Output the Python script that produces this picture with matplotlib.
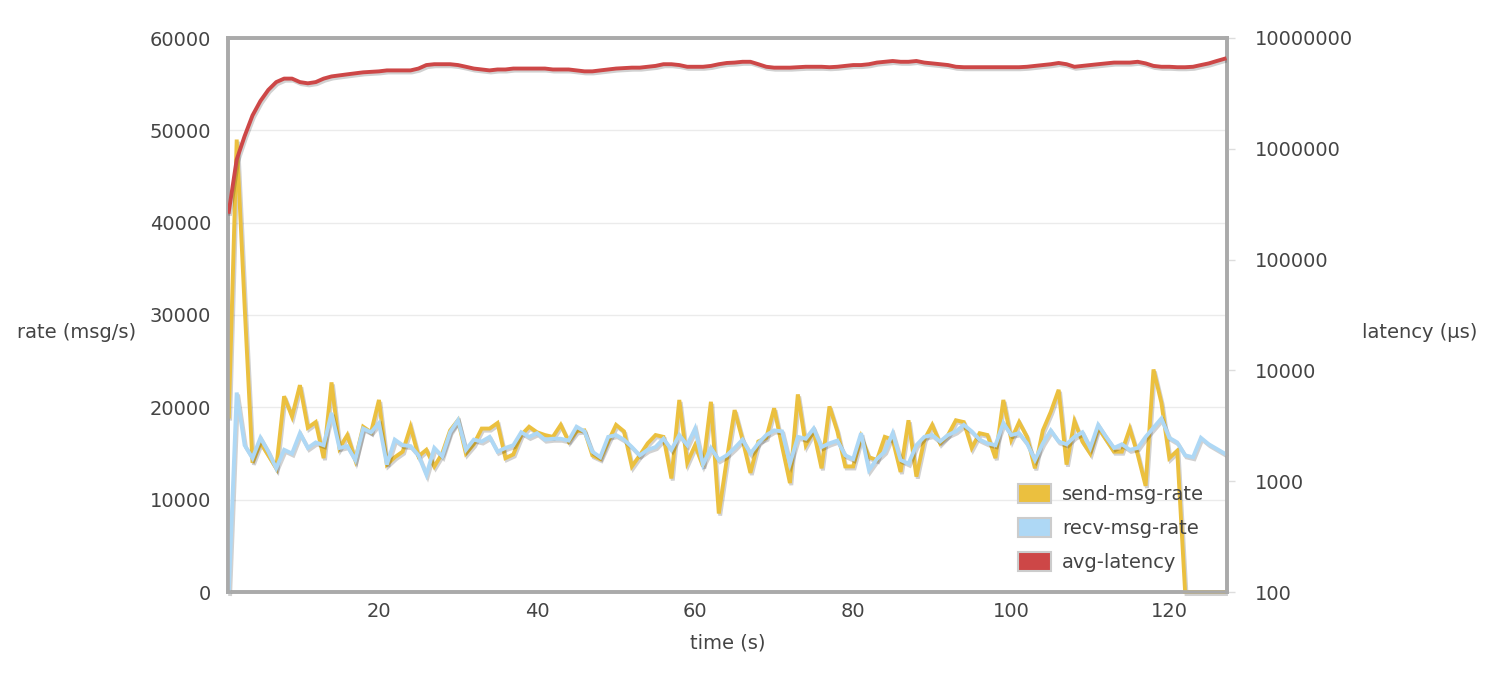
import matplotlib
matplotlib.use("Agg")
import matplotlib.pyplot as plt
import matplotlib.patheffects as pe
from matplotlib.patches import Patch
from matplotlib.ticker import FixedLocator, FuncFormatter, NullLocator
import numpy as np

# seconds 1..127
time_s = list(range(1, 128))

send_rate = [
    19000, 49000, 31000, 14000, 16200, 14800, 13400, 21200, 19000, 22400,
    17800, 18400, 14500, 22700, 15600, 17000, 14300, 17900, 17300, 20800,
    13800, 14600, 15200, 17900, 14700, 15400, 13600, 15000, 17500, 18600,
    15000, 16000, 17700, 17700, 18300, 14500, 14900, 17000, 17900, 17300,
    17000, 16800, 18100, 16300, 17400, 17500, 14800, 14400, 16300, 18100,
    17400, 13600, 14800, 16100, 17000, 16800, 12300, 20800, 14000, 15900,
    13600, 20600, 8500, 14300, 19700, 16500, 12900, 16300, 16700, 19900,
    15800, 11800, 21400, 15900, 17400, 13400, 20100, 17400, 13600, 13600,
    16800, 14600, 14300, 16800, 16500, 13000, 18600, 12500, 16500, 18100,
    16100, 17000, 18600, 18400, 15600, 17200, 17000, 14500, 20800, 16500,
    18400, 16800, 13400, 17500, 19500, 21900, 13800, 18500, 16300, 15000,
    17800, 16500, 15200, 15200, 17700, 14900, 11500, 24100, 20500, 14500,
    15300, 0, 0, 0, 0, 0, 0,
]

recv_rate = [
    0, 21600, 15900, 14500, 16700, 15200, 13400, 15400, 15000, 17200,
    15600, 16200, 15900, 19400, 15600, 15800, 14300, 17700, 17300, 18300,
    13800, 16500, 15900, 15800, 14800, 12700, 15600, 14700, 17300, 18600,
    15400, 16500, 16300, 16800, 15200, 15600, 15900, 17300, 16800, 17200,
    16500, 16600, 16600, 16400, 17900, 17400, 15200, 14600, 16800, 17000,
    16500, 15700, 14800, 15400, 15700, 16600, 15400, 17000, 15900, 17700,
    13800, 15600, 14300, 14800, 15600, 16500, 15000, 16100, 17000, 17500,
    17400, 13900, 16800, 16600, 17700, 15700, 16100, 16400, 14800, 14400,
    17200, 13200, 14400, 15200, 17200, 14300, 13900, 15900, 16800, 17000,
    16300, 17000, 17400, 18100, 17400, 16500, 16100, 15900, 18300, 17000,
    17200, 16100, 14300, 16100, 17500, 16300, 16000, 16800, 17300, 15600,
    18100, 16800, 15600, 16000, 15400, 15600, 16800, 17800, 18800, 16700,
    16200, 14800, 14600, 16700, 16000, 15500, 15000,
]

# avg latency in millions of microseconds
avg_latency_m = [
    0.27, 0.80, 1.3, 2.0, 2.7, 3.4, 4.0, 4.3, 4.3, 4.0,
    3.9, 4.0, 4.3, 4.5, 4.6, 4.7, 4.8, 4.9, 4.95, 5.0,
    5.1, 5.1, 5.1, 5.1, 5.3, 5.7, 5.8, 5.8, 5.8, 5.7,
    5.5, 5.3, 5.2, 5.1, 5.2, 5.2, 5.3, 5.3, 5.3, 5.3,
    5.3, 5.2, 5.2, 5.2, 5.1, 5.0, 5.0, 5.1, 5.2, 5.3,
    5.35, 5.4, 5.4, 5.5, 5.6, 5.8, 5.8, 5.7, 5.5, 5.5,
    5.5, 5.6, 5.8, 5.95, 6.0, 6.1, 6.1, 5.8, 5.5, 5.4,
    5.4, 5.4, 5.45, 5.5, 5.5, 5.5, 5.45, 5.5, 5.6, 5.7,
    5.7, 5.8, 6.0, 6.1, 6.2, 6.1, 6.1, 6.2, 6.0, 5.9,
    5.8, 5.7, 5.5, 5.45, 5.45, 5.45, 5.45, 5.45, 5.45, 5.45,
    5.45, 5.5, 5.6, 5.7, 5.8, 5.95, 5.8, 5.5, 5.6, 5.7,
    5.8, 5.9, 6.0, 6.0, 6.0, 6.1, 5.9, 5.6, 5.5, 5.5,
    5.45, 5.45, 5.5, 5.7, 5.9, 6.2, 6.5,
]

left_ticks = [0, 10000, 20000, 30000, 40000, 50000, 60000]
right_ticks = [100, 1000, 10000, 100000, 1000000, 10000000]
x_ticks = [20, 40, 60, 80, 100, 120]

c_send = "#ebc03f"
c_recv = "#aed8f5"
c_lat = "#cd4747"
txt = "#444444"
fs = 14

plt.rcParams["font.family"] = ["DejaVu Sans"]

fig = plt.figure(figsize=(14.98, 6.8), dpi=100)
ax = fig.add_axes([228 / 1498, 88 / 680, 999 / 1498, 554 / 680])
ax2 = ax.twinx()

shadow = [pe.SimpleLineShadow(offset=(1, -1.5), shadow_color="k", alpha=0.18),
          pe.Normal()]

ax.plot(time_s, send_rate, color=c_send, lw=2.8, path_effects=shadow,
        clip_on=False, solid_joinstyle="miter", zorder=3)
ax.plot(time_s, recv_rate, color=c_recv, lw=2.8, path_effects=shadow,
        clip_on=False, solid_joinstyle="miter", zorder=4)
latency = np.array(avg_latency_m) * 1e6
ax2.plot(time_s, latency, color=c_lat, lw=2.8, path_effects=shadow, zorder=5)

ax.set_xlim(0.9, 127.3)
ax.set_ylim(0, 60000)
ax2.set_yscale("log")
ax2.set_ylim(100, 10000000)

ax.set_yticks(left_ticks)
ax.set_xticks(x_ticks)
ax.yaxis.grid(True, color="#ebebeb", lw=1)
ax.set_axisbelow(True)
ax.tick_params(axis="both", length=0, labelsize=fs, colors=txt)
ax.tick_params(axis="y", pad=12)
ax.tick_params(axis="x", pad=7)

ax2.yaxis.set_major_locator(FixedLocator(right_ticks))
ax2.yaxis.set_minor_locator(NullLocator())
ax2.yaxis.set_major_formatter(FuncFormatter(lambda v, p: "%d" % round(v)))
ax2.tick_params(axis="y", length=6, width=1, color="#dddddd", labelsize=fs,
                labelcolor=txt, pad=14)

for a in (ax, ax2):
    for s in a.spines.values():
        s.set_color("#aaaaaa")
        s.set_linewidth(2.6)

ax.set_xlabel("time (s)", fontsize=fs, color=txt, labelpad=9)
fig.text(17 / 1498, 1 - 332 / 680, "rate (msg/s)", fontsize=fs, color=txt,
         ha="left", va="center")
fig.text(1362 / 1498, 1 - 332 / 680, "latency (µs)", fontsize=fs, color=txt,
         ha="left", va="center")

handles = [Patch(facecolor=c_send, edgecolor="#cccccc", lw=1.5),
           Patch(facecolor=c_recv, edgecolor="#cccccc", lw=1.5),
           Patch(facecolor=c_lat, edgecolor="#cccccc", lw=1.5)]
labels = ["send-msg-rate", "recv-msg-rate", "avg-latency"]
leg = ax2.legend(handles, labels, loc="lower right",
                 bbox_to_anchor=(0.985, 0.022), frameon=False, fontsize=fs,
                 handlelength=1.7, handleheight=1.15, labelspacing=0.7,
                 handletextpad=0.6, borderaxespad=0)
for t in leg.get_texts():
    t.set_color(txt)

fig.savefig("out.png", dpi=100)
